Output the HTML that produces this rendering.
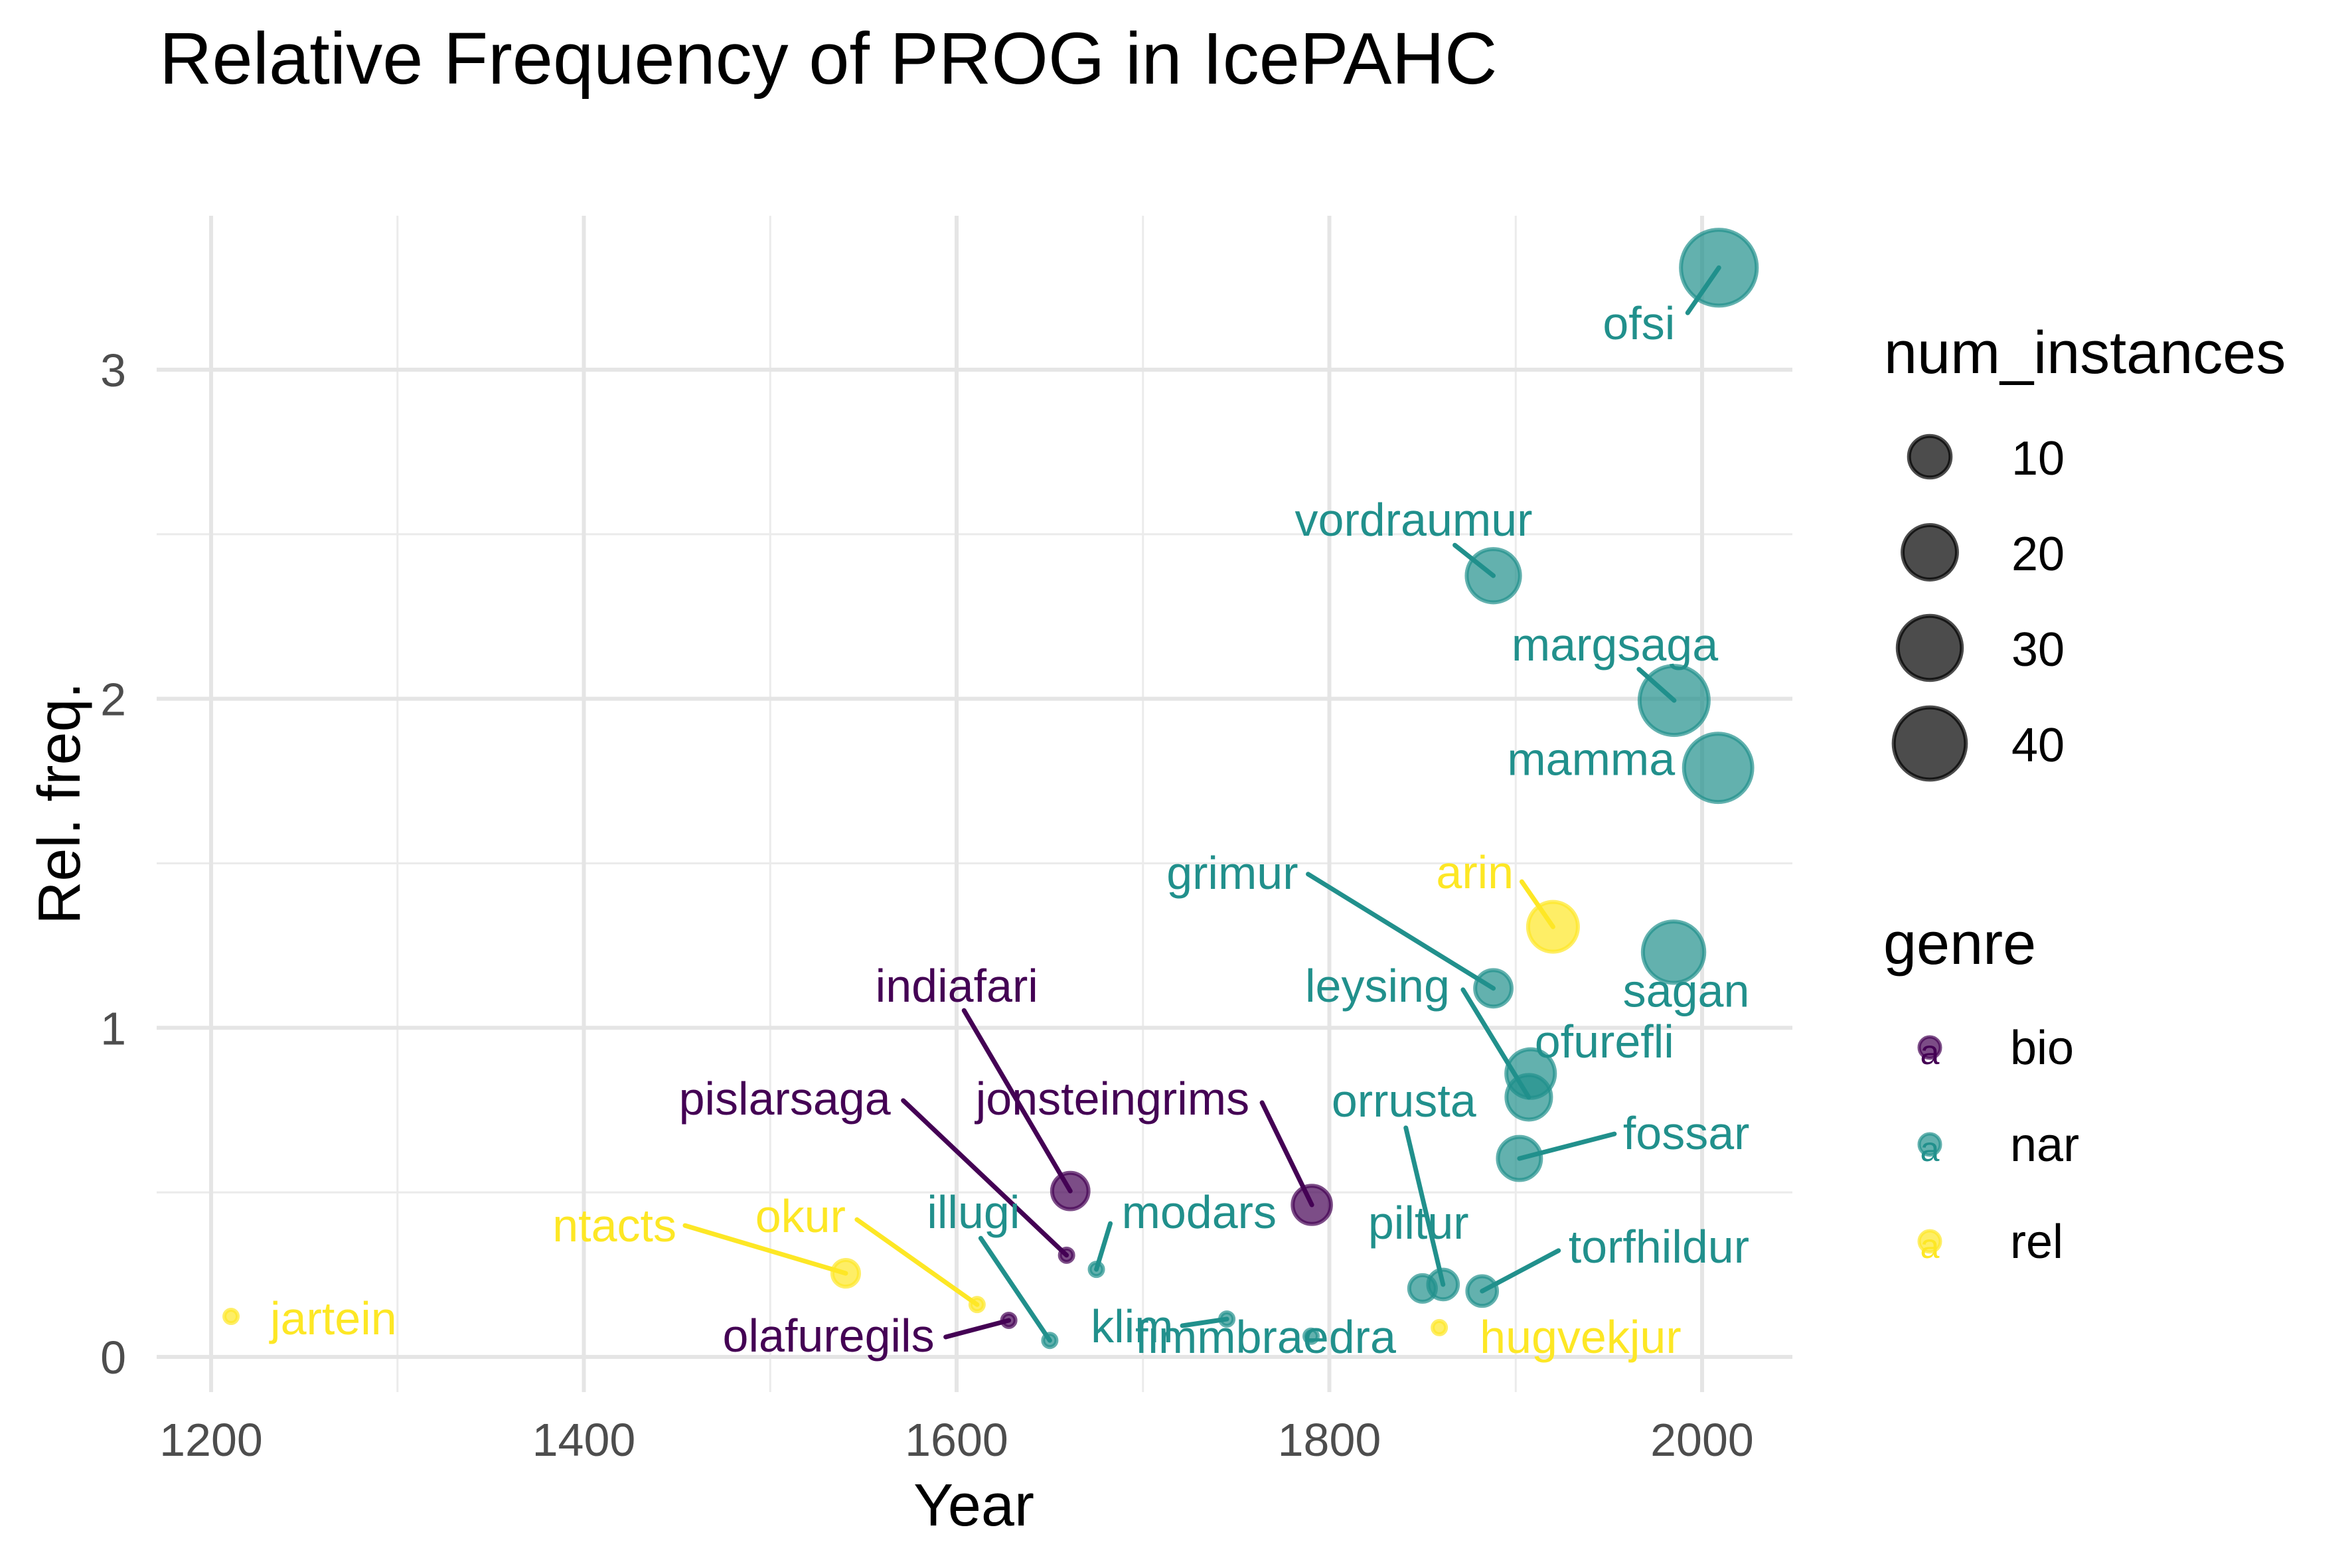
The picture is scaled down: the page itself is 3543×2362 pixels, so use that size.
<!DOCTYPE html>
<html><head><meta charset="utf-8"><style>
html,body{margin:0;padding:0;background:#fff;}
svg{display:block;font-family:"Liberation Sans",Arial,sans-serif;}
</style></head><body>
<svg id="chart" width="3543" height="2362" viewBox="0 0 3543 2362" xmlns="http://www.w3.org/2000/svg">
<rect width="3543" height="2362" fill="#fff"/>
<text x="240" y="126" font-size="110" fill="#000">Relative Frequency of PROG in IcePAHC</text>
<g id="grid"></g>
<g id="axes"></g>
<g id="segs"></g>
<g id="pts"></g>
<g id="labs"></g>
<text x="1467" y="2298" font-size="90" text-anchor="middle" fill="#000">Year</text>
<text transform="translate(120,1210) rotate(-90)" font-size="90" text-anchor="middle" fill="#000">Rel. freq.</text>
<g id="legend"></g>
</svg>
<script>
const names = ["ofsi","vordraumur","margsaga","mamma","arin","sagan","grimur","ofurefli","leysing","fossar","indiafari","jonsteingrims","pislarsaga","modars","ntacts","orrusta","piltur","torfhildur","okur","olafuregils","klim","jartein","hugvekjur","fimmbraedra","illugi"];
const years = [2009,1888,1985,2008.6,1920,1984.7,1888,1908,1907,1902,1661,1790.6,1659,1675,1540.5,1861,1850,1882,1611,1628,1745,1210.7,1859,1790.2,1650];
const relFreq = [3.31,2.374,1.995,1.79,1.307,1.23,1.12,0.861,0.789,0.603,0.504,0.462,0.309,0.266,0.254,0.22,0.208,0.20,0.159,0.111,0.115,0.123,0.089,0.063,0.05];
const numInstances = [45,19,36,35,16,27,7,15,12,11,7,8,1,1,3,4,3,4,1,1,1,1,1,1,1];
const genres = ["nar","nar","nar","nar","rel","nar","nar","nar","nar","nar","bio","bio","bio","nar","rel","nar","nar","nar","rel","bio","nar","rel","rel","nar","nar"];
const xTicks = [1200,1400,1600,1800,2000];
const xMinor = [1300,1500,1700,1900];
const yTicks = [0,1,2,3];
const yMinor = [0.5,1.5,2.5];
const sizeBreaks = [10,20,30,40];
const genreLevels = ["bio","nar","rel"];

// label layout: [anchor, dx, dy, segDx, segDy] relative to point (pixels)
const labelLayout = [
 ["end",-66,108,-47,68],["start",-299,-60,-58,-46],["start",-245,-60,-53,-47],["end",-65,11,null,null],
 ["start",-176,-58,-47,-68],["middle",19,82,null,null],["end",-294,-150,-279,-172],["start",6,-24,null,null],
 ["end",-119,-144,-99,-162],["start",156,-14,143,-37],["middle",-171,-285,-160,-272],["end",-94,-136,-75,-154],
 ["end",-265,-212,-246,-233],["start",38,-62,21,-69],["end",-255,-48,-242,-72],["end",50,-253,-56,-236],
 ["start",-82,-75,null,null],["start",130,-43,115,-61],["end",-198,-109,-181,-128],["end",-112,47,-95,25],
 ["start",-205,35,-67,10],["start",59,27,null,null],["start",61,38,null,null],["start",-265,25,null,null],["middle",-115,-169,-104,-154]
];
const colors = {bio:"#440154",nar:"#21908C",rel:"#FDE725"};
const NS="http://www.w3.org/2000/svg";
const X0=236,X1=2700,Y0=325,Y1=2097;
function xs(v){return 318+(v-1200)*2.8075;}
function ys(v){return 2044-v*495.7;}
function rs(n){return 13+7.1*Math.sqrt(Math.max(n-1,0));}
function mk(tag,attrs,parent){const e=document.createElementNS(NS,tag);for(const k in attrs)e.setAttribute(k,attrs[k]);parent.appendChild(e);return e;}
const grid=document.getElementById('grid');
xMinor.forEach(v=>{const l=mk('line',{x1:xs(v),x2:xs(v),y1:Y0,y2:Y1,stroke:"#ebebeb","stroke-width":3},grid);

});
yMinor.forEach(v=>{const l=mk('line',{x1:X0,x2:X1,y1:ys(v),y2:ys(v),stroke:"#ebebeb","stroke-width":3},grid);

});
xTicks.forEach(v=>{const l=mk('line',{x1:xs(v),x2:xs(v),y1:Y0,y2:Y1,stroke:"#e5e5e5","stroke-width":6},grid);

});
yTicks.forEach(v=>{const l=mk('line',{x1:X0,x2:X1,y1:ys(v),y2:ys(v),stroke:"#e5e5e5","stroke-width":6},grid);

});
const axes=document.getElementById('axes');
xTicks.forEach(v=>{const t=mk('text',{x:xs(v),y:2193,"font-size":70,"text-anchor":"middle",fill:"#4d4d4d"},axes);t.textContent=v;

});
yTicks.forEach(v=>{const t=mk('text',{x:190,y:ys(v)+25,"font-size":70,"text-anchor":"end",fill:"#4d4d4d"},axes);t.textContent=v;

});
const segs=document.getElementById('segs'),pts=document.getElementById('pts'),labs=document.getElementById('labs');
names.forEach((nm,i)=>{
 const cx=xs(years[i]),cy=ys(relFreq[i]),c=colors[genres[i]],L=labelLayout[i];
 const r=rs(numInstances[i]);
 const p=mk('circle',{cx:cx,cy:cy,r:r-3,fill:c,"fill-opacity":0.7,stroke:c,"stroke-opacity":0.7,"stroke-width":6},pts);
 
 
 if(L[3]!==null){const s=mk('line',{x1:cx+L[3],y1:cy+L[4],x2:cx,y2:cy,stroke:c,"stroke-width":7,"stroke-linecap":"round"},segs);
 
 }
 const t=mk('text',{x:cx+L[1],y:cy+L[2],"font-size":70,"text-anchor":L[0],fill:c},labs);t.textContent=nm;
 
 
});
const lg=document.getElementById('legend');
let t=mk('text',{x:2838,y:562,"font-size":90,fill:"#000"},lg);t.textContent="num_instances";


sizeBreaks.forEach((b,i)=>{const y=688+i*144;
 const c=mk('circle',{cx:2907,cy:y,r:rs(b)-3,fill:"#000","fill-opacity":0.7,stroke:"#000","stroke-opacity":0.7,"stroke-width":6},lg);
 
 
 const tt=mk('text',{x:3030,y:y+27,"font-size":72,fill:"#000"},lg);tt.textContent=b;
 
 });
t=mk('text',{x:2837,y:1452,"font-size":90,fill:"#000"},lg);t.textContent="genre";


genreLevels.forEach((g,i)=>{const y=1578+i*146;
 const c=mk('circle',{cx:2907,cy:y,r:16,fill:colors[g],"fill-opacity":0.7,stroke:colors[g],"stroke-opacity":0.7,"stroke-width":5},lg);
 
 
 const a=mk('text',{x:2907,y:y+25,"font-size":52,"text-anchor":"middle",fill:colors[g]},lg);a.textContent="a";
 
 
 const tt=mk('text',{x:3028,y:y+25,"font-size":72,fill:"#000"},lg);tt.textContent=g;
 
 });
</script>
</body></html>
